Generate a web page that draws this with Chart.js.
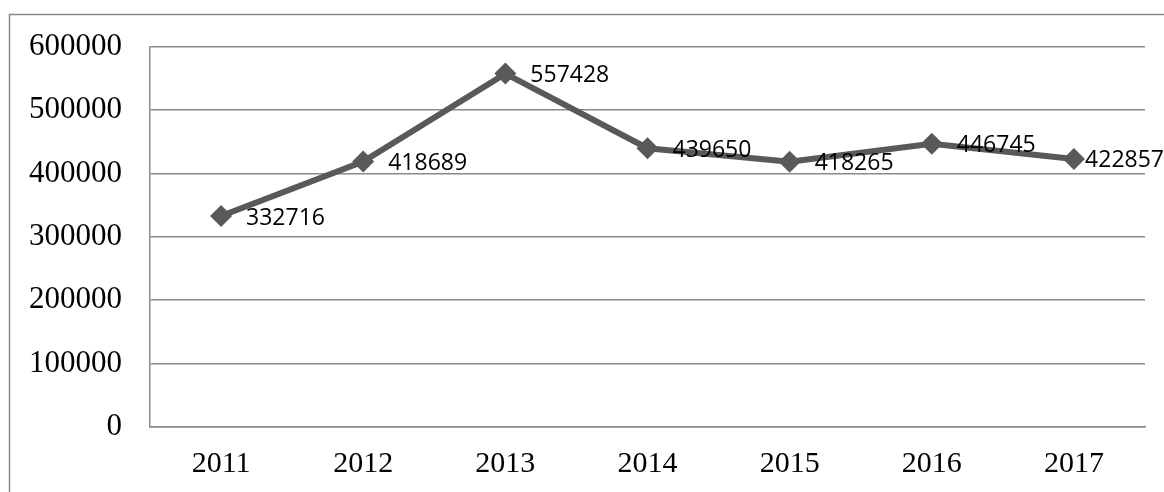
<!DOCTYPE html>
<html>
<head>
<meta charset="utf-8">
<script src="https://cdn.jsdelivr.net/npm/chart.js@4"></script>
<style>
  body { margin: 0; background: #fff; }
</style>
</head>
<body>
<canvas id="myChart" width="1164" height="492"></canvas>
<script>
const years = ["2011", "2012", "2013", "2014", "2015", "2016", "2017"];
const volumes = [332716, 418689, 557428, 439650, 418265, 446745, 422857];
const yMin = 0;
const yMax = 600000;
const yStep = 100000;

const gridGray = '#8a8a8a';

// outer frame of the chart (runs off the right and bottom edges)
const framePlugin = {
    id: 'frame',
    beforeDraw(chart) {
        const ctx = chart.ctx;
        ctx.save();
        ctx.fillStyle = '#fff';
        ctx.fillRect(0, 0, chart.width, chart.height);
        ctx.strokeStyle = gridGray;
        ctx.lineWidth = 1.5;
        ctx.strokeRect(9.5, 14.5, 1400, 700);
        ctx.restore();
    }
};

// value labels to the right of every point, pushed back in if they'd overflow
const valueLabels = {
    id: 'valueLabels',
    afterDatasetsDraw(chart) {
        const ctx = chart.ctx;
        const meta = chart.getDatasetMeta(0);
        ctx.save();
        ctx.font = '23px "Open Sans"';
        ctx.fillStyle = '#000';
        ctx.textAlign = 'left';
        ctx.textBaseline = 'middle';
        meta.data.forEach((pt, i) => {
            const txt = String(volumes[i]);
            const w = ctx.measureText(txt).width;
            const x = Math.min(pt.x + 25, chart.width - w);
            ctx.fillText(txt, x, pt.y + 2);
        });
        ctx.restore();
    }
};

new Chart(document.getElementById("myChart"), {
    type: 'line',
    data: {
        labels: years,
        datasets: [
            {
                data: volumes,
                borderColor: '#595959',
                borderWidth: 6,
                pointStyle: 'rectRot',
                pointRadius: 11,
                pointBackgroundColor: '#595959',
                pointBorderWidth: 0,
                tension: 0,
                clip: false
            }
        ]
    },
    options: {
        responsive: false,
        maintainAspectRatio: false,
        animation: false,
        layout: { padding: { top: 45, right: 19, left: 0, bottom: 0 } },
        plugins: {
            legend: { display: false },
            tooltip: { enabled: false }
        },
        scales: {
            x: {
                offset: true,
                grid: { display: false, drawTicks: false },
                border: { display: true, color: gridGray, width: 1.5 },
                ticks: {
                    color: '#000',
                    padding: 19,
                    font: { family: '"Liberation Serif"', size: 30 }
                },
                afterFit(scale) { scale.height = 65; }
            },
            y: {
                min: yMin,
                max: yMax,
                grid: { color: gridGray, lineWidth: 1.5, drawTicks: false },
                border: { display: true, color: gridGray, width: 1.5 },
                ticks: {
                    stepSize: yStep,
                    color: '#000',
                    padding: 28,
                    font: { family: '"Liberation Serif"', size: 31 },
                    callback: v => String(v)
                },
                afterFit(scale) { scale.width = 150; }
            }
        }
    },
    plugins: [framePlugin, valueLabels]
});
</script>
</body>
</html>
